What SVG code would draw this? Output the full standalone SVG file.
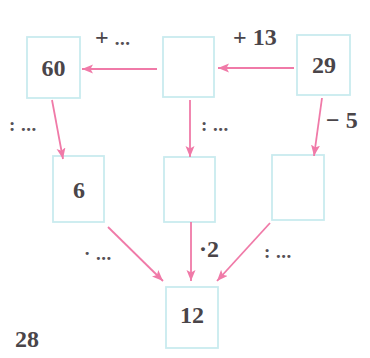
<svg xmlns="http://www.w3.org/2000/svg" width="370" height="358" viewBox="0 0 370 358">
<defs>
<style>
.box{fill:#ffffff;stroke:#c9ebef;stroke-width:1.8}
.num{font-family:"Liberation Serif",serif;font-weight:bold;font-size:24px;fill:#4a4549;text-anchor:middle}
.lbl{font-family:"Liberation Serif",serif;font-weight:bold;font-size:24px;fill:#4a4549}
.dots{font-family:"Liberation Serif",serif;font-weight:bold;font-size:19px;fill:#555055;letter-spacing:0.5px}
.arr{stroke:#f07aa8;stroke-width:1.8;fill:none;marker-end:url(#ah)}
</style>
<marker id="ah" markerUnits="userSpaceOnUse" markerWidth="14" markerHeight="12" refX="11" refY="4.5" orient="auto">
<path d="M0,0 L11,4.5 L0,9 L2.5,4.5 z" fill="#f07aa8"/>
</marker>
</defs>
<rect width="370" height="358" fill="#ffffff"/>
<g id="n60"><rect class="box" x="27" y="37" width="53" height="61"/><text class="num" x="53.5" y="76">60</text></g>
<g id="ntop"><rect class="box" x="163" y="37" width="51" height="60"/></g>
<g id="n29"><rect class="box" x="297" y="35" width="53" height="60"/><text class="num" x="324" y="73">29</text></g>
<g id="n6"><rect class="box" x="53" y="156" width="51" height="66"/><text class="num" x="79" y="198">6</text></g>
<g id="nmid"><rect class="box" x="164" y="157" width="51" height="65"/></g>
<g id="nright"><rect class="box" x="272" y="155" width="52" height="65"/></g>
<g id="n12"><rect class="box" x="166" y="287" width="52" height="61"/><text class="num" x="192" y="323">12</text></g>
<g id="page"><text class="num" x="27" y="347">28</text></g>
<g id="connectors">
<line class="arr" x1="294" y1="68" x2="218" y2="68"/>
<line class="arr" x1="157" y1="69" x2="82" y2="69"/>
<line class="arr" x1="52" y1="100" x2="63" y2="159"/>
<line class="arr" x1="190" y1="100" x2="190" y2="157"/>
<line class="arr" x1="322" y1="98" x2="314" y2="156"/>
<line class="arr" x1="108" y1="227" x2="163" y2="281"/>
<line class="arr" x1="191" y1="222" x2="191" y2="281"/>
<line class="arr" x1="270" y1="223" x2="217" y2="281"/>
</g>
<g id="labels">
<text class="lbl" x="95" y="45">+ <tspan class="dots">...</tspan></text>
<text class="lbl" x="233" y="45">+ 13</text>
<text class="dots" x="9" y="131">:  ...</text>
<text class="dots" x="201" y="131">:  ...</text>
<text class="lbl" x="326" y="128">− 5</text>
<text class="dots" x="84" y="260">·  ...</text>
<text class="lbl" x="199" y="257">·2</text>
<text class="dots" x="264" y="258">:  ...</text>
</g>
</svg>
